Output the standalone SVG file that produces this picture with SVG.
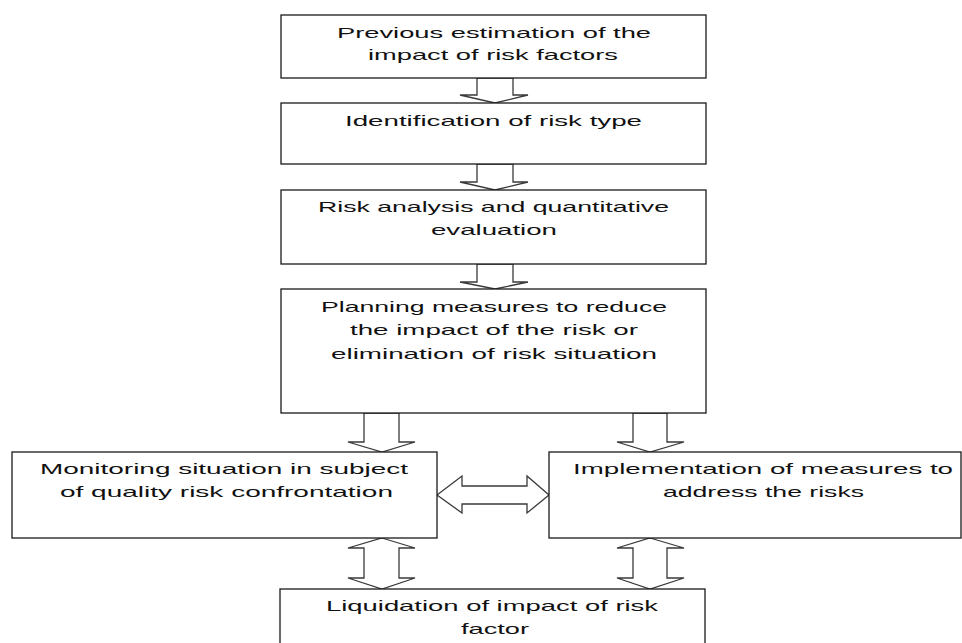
<svg xmlns="http://www.w3.org/2000/svg" width="962" height="643" viewBox="0 0 962 643">
<style>
.box{fill:#fff;stroke:#1a1a1a;stroke-width:1.3}
.arr{fill:#fff;stroke:#3a3a3a;stroke-width:1.3;stroke-linejoin:miter}
text{font-family:"Liberation Sans",Arial,sans-serif;font-size:15px;fill:#111}
</style>
<rect width="962" height="643" fill="#fff"/>
<g id="connectors">
<polygon class="arr" points="477,78 477,95 460,95 495,103 528,95 513,95 513,78"/>
<polygon class="arr" points="477,164 477,182 460,182 495,190 528,182 513,182 513,164"/>
<polygon class="arr" points="477,264 477,282 460,282 495,289 528,282 513,282 513,264"/>
<polygon class="arr" points="364,413 364,442 348,442 382,452 415,442 399,442 399,413"/>
<polygon class="arr" points="633,413 633,442 617,442 650,452 684,442 667,442 667,413"/>
<polygon class="arr" points="382,538 415,548 399,548 399,578 415,578 382,589 348,578 364,578 364,548 348,548"/>
<polygon class="arr" points="650,538 684,548 667,548 667,578 684,578 650,589 617,578 633,578 633,548 617,548"/>
<polygon class="arr" points="437,495 462,476 462,486 527,486 527,476 549,495 527,513 527,504 462,504 462,513"/>
</g>
<g id="n1">
<rect class="box" x="281" y="15" width="425" height="63"/>
<text x="337" y="38" textLength="314" lengthAdjust="spacingAndGlyphs">Previous estimation of the</text>
<text x="368" y="60" textLength="250" lengthAdjust="spacingAndGlyphs">impact of risk factors</text>
</g>
<g id="n2">
<rect class="box" x="281" y="103" width="425" height="61"/>
<text x="345" y="126" textLength="297" lengthAdjust="spacingAndGlyphs">Identification of risk type</text>
</g>
<g id="n3">
<rect class="box" x="281" y="190" width="425" height="74"/>
<text x="318" y="212" textLength="351" lengthAdjust="spacingAndGlyphs">Risk analysis and quantitative</text>
<text x="431" y="235" textLength="126" lengthAdjust="spacingAndGlyphs">evaluation</text>
</g>
<g id="n4">
<rect class="box" x="281" y="289" width="425" height="124"/>
<text x="321" y="312" textLength="346" lengthAdjust="spacingAndGlyphs">Planning measures to reduce</text>
<text x="350" y="335" textLength="288" lengthAdjust="spacingAndGlyphs">the impact of the risk or</text>
<text x="331" y="359" textLength="326" lengthAdjust="spacingAndGlyphs">elimination of risk situation</text>
</g>
<g id="n5">
<rect class="box" x="12" y="452" width="425" height="86"/>
<text x="40" y="474" textLength="368" lengthAdjust="spacingAndGlyphs">Monitoring situation in subject</text>
<text x="60" y="497" textLength="333" lengthAdjust="spacingAndGlyphs">of quality risk confrontation</text>
</g>
<g id="n6">
<rect class="box" x="549" y="452" width="412" height="86"/>
<text x="573" y="474" textLength="380" lengthAdjust="spacingAndGlyphs">Implementation of measures to</text>
<text x="663" y="497" textLength="201" lengthAdjust="spacingAndGlyphs">address the risks</text>
</g>
<g id="n7">
<rect class="box" x="280" y="589" width="425" height="70"/>
<text x="326" y="611" textLength="332" lengthAdjust="spacingAndGlyphs">Liquidation of impact of risk</text>
<text x="461" y="634" textLength="68" lengthAdjust="spacingAndGlyphs">factor</text>
</g>
</svg>
